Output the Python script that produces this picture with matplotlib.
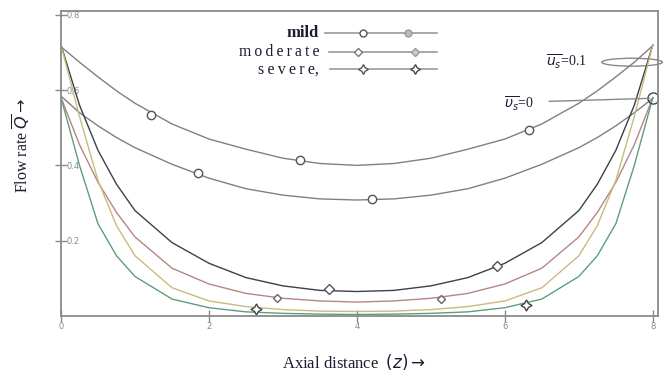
import numpy as np
import matplotlib
matplotlib.use("Agg")
import matplotlib.pyplot as plt
from matplotlib.patches import Ellipse

# ---------------- data ----------------
z = [0, 0.25, 0.5, 0.75, 1, 1.5, 2, 2.5, 3, 3.5, 4, 4.5, 5, 5.5, 6, 6.5, 7, 7.25, 7.5, 7.75, 8]

mild_u01 = [0.715, 0.674, 0.635, 0.598, 0.565, 0.510, 0.470, 0.443, 0.419, 0.405, 0.400,
            0.405, 0.419, 0.443, 0.470, 0.510, 0.565, 0.598, 0.635, 0.674, 0.718]
mild_u0 = [0.584, 0.540, 0.505, 0.474, 0.447, 0.403, 0.366, 0.338, 0.321, 0.311, 0.308,
           0.311, 0.321, 0.338, 0.366, 0.403, 0.447, 0.474, 0.505, 0.540, 0.578]
moderate_u01 = [0.720, 0.560, 0.440, 0.350, 0.280, 0.195, 0.140, 0.102, 0.080, 0.068, 0.065,
                0.068, 0.080, 0.102, 0.140, 0.195, 0.280, 0.350, 0.440, 0.560, 0.720]
moderate_u0 = [0.580, 0.455, 0.355, 0.275, 0.210, 0.127, 0.085, 0.060, 0.047, 0.040, 0.037,
               0.040, 0.047, 0.060, 0.085, 0.127, 0.210, 0.275, 0.355, 0.455, 0.580]
severe_u01 = [0.720, 0.530, 0.360, 0.240, 0.160, 0.075, 0.040, 0.025, 0.017, 0.013, 0.012,
              0.013, 0.017, 0.025, 0.040, 0.075, 0.160, 0.240, 0.360, 0.530, 0.720]
severe_u0 = [0.580, 0.400, 0.245, 0.160, 0.105, 0.045, 0.022, 0.011, 0.007, 0.005, 0.004,
             0.005, 0.007, 0.011, 0.022, 0.045, 0.105, 0.160, 0.245, 0.400, 0.580]

# marker positions
mk_mild_u01_z = [1.22, 3.23, 6.32]
mk_mild_u01_q = [0.534, 0.414, 0.493]
mk_mild_u0_z = [1.85, 4.2]
mk_mild_u0_q = [0.379, 0.310]
mk_mod_u01_z = [3.62, 5.9]
mk_mod_u01_q = [0.071, 0.134]
mk_mod_u0_z = [2.92, 5.14]
mk_mod_u0_q = [0.049, 0.046]
mk_sev_z = [2.63, 6.28]
mk_sev_q = [0.019, 0.028]

x_ticks = [0, 2, 4, 6, 8]
x_ticklabels = ["0", "2", "4", "6", "8"]
y_ticks = [0.2, 0.4, 0.6, 0.8]
y_ticklabels = ["0.2", "0.4", "0.6", "0.8"]

legend_labels = ["mild", "m\u2009o\u2009d\u2009e\u2009r\u2009a\u2009t\u2009e",
                 "s\u2009e\u2009v\u2009e\u2009r\u2009e,"]

# ---------------- figure ----------------
fig = plt.figure(figsize=(6.7, 3.76), dpi=100)
ax = fig.add_axes([61 / 670, 1 - 316 / 376, (658 - 61) / 670, (316 - 11) / 376])
ax.set_xlim(0, 8.07)
ax.set_ylim(0, 0.81)

c_mild = "#808080"
c_dark = "#3c4048"
c_red = "#b88585"
c_olive = "#c9bb7e"
c_green = "#5f9c80"
lw = 1.0

ax.plot(z, mild_u01, color=c_mild, lw=lw)
ax.plot(z, mild_u0, color=c_mild, lw=lw)
ax.plot(z, moderate_u01, color=c_dark, lw=lw)
ax.plot(z, moderate_u0, color=c_red, lw=lw)
ax.plot(z, severe_u01, color=c_olive, lw=lw)
ax.plot(z, severe_u0, color=c_green, lw=lw)

ax.plot(mk_mild_u01_z, mk_mild_u01_q, ls="none", marker="o", ms=6, mfc="white",
        mec="#555555", mew=1.0)
ax.plot(mk_mild_u0_z, mk_mild_u0_q, ls="none", marker="o", ms=6, mfc="white",
        mec="#555555", mew=1.0)
ax.plot(mk_mod_u01_z, mk_mod_u01_q, ls="none", marker="D", ms=5, mfc="white",
        mec="#555555", mew=1.0)
ax.plot(mk_mod_u0_z, mk_mod_u0_q, ls="none", marker="D", ms=4.5, mfc="white",
        mec="#666666", mew=1.0)
ax.plot(mk_sev_z, mk_sev_q, ls="none", marker=(4, 1, 0), ms=8, mfc="white",
        mec="#444444", mew=1.0)

# end circle on u=0 curve
ax.plot([z[-1]], [mild_u0[-1]], ls="none", marker="o", ms=8, mfc="none",
        mec="#444444", mew=1.0)

# spines / ticks
for s in ax.spines.values():
    s.set_color("#8a8a8a")
    s.set_linewidth(1.3)
ax.set_xticks(x_ticks)
ax.set_xticklabels(x_ticklabels)
ax.set_yticks(y_ticks)
ax.set_yticklabels(y_ticklabels)
ax.tick_params(axis="both", direction="inout", length=9, width=1, colors="#8a8a8a",
               labelsize=6, labelcolor="#8a8a8a")
ax.tick_params(axis="y", pad=-8.8)
for lbl in ax.get_yticklabels():
    lbl.set_horizontalalignment("left")
ax.tick_params(axis="x", pad=0)

serif = ["Liberation Serif", "DejaVu Serif"]
txtc = "#1c1c30"

ax.set_xlabel(r"Axial distance  $(z)\rightarrow$", fontsize=12, family=serif,
              color=txtc, va="center")
ax.xaxis.set_label_coords((354 - 61) / 597, -(362 - 316) / 305)
ax.set_ylabel(r"Flow rate $\overline{Q}$$\rightarrow$", fontsize=11.5,
              family=serif, color=txtc, va="center")
ax.yaxis.set_label_coords((22 - 61) / 597, (316 - 145) / 305)

# custom legend
leg_y = [0.751, 0.700, 0.655]
leg_x0 = [3.57, 3.62, 3.63]
leg_x1 = 5.08
leg_fs = [12, 11.3, 11.5]
for i, lab in enumerate(legend_labels):
    ax.text(3.49, leg_y[i], lab, ha="right", va="center", fontsize=leg_fs[i], family=serif,
            color=txtc, fontweight="bold" if i == 0 else "normal")
    ax.plot([leg_x0[i], leg_x1], [leg_y[i]] * 2, color="#9a9a9a", lw=1.2)
ax.plot([4.08], [leg_y[0]], marker="o", ms=5, mfc="white", mec="#555555", ls="none")
ax.plot([4.69], [leg_y[0]], marker="o", ms=5, mfc="#bbbbbb", mec="#999999", ls="none")
ax.plot([4.01], [leg_y[1]], marker="D", ms=4, mfc="white", mec="#777777", ls="none")
ax.plot([4.78], [leg_y[1]], marker="D", ms=4, mfc="#cccccc", mec="#999999", ls="none")
ax.plot([4.08], [leg_y[2]], marker=(4, 1, 0), ms=7, mfc="white", mec="#555555", ls="none")
ax.plot([4.78], [leg_y[2]], marker=(4, 1, 0), ms=7, mfc="white", mec="#444444", ls="none")

# annotations
ax.text(6.55, 0.675, r"$\overline{u_s}$=0.1", ha="left", va="center", fontsize=10,
        family=serif, color=txtc)
ax.add_patch(Ellipse((7.72, 0.674), 0.82, 0.021, fill=False, ec="#888888", lw=1.0,
                     clip_on=False))
ax.text(5.99, 0.563, r"$\overline{\upsilon_s}$=0", ha="left", va="center", fontsize=10,
        family=serif, color=txtc)
ax.plot([6.6, 7.95], [0.570, 0.578], color="#888888", lw=1.0)

fig.savefig("out.png", dpi=100, facecolor="white")
